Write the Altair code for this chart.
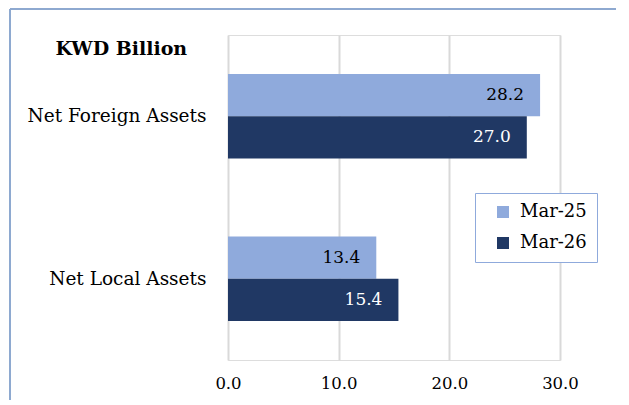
import altair as alt
import pandas as pd

categories = ["Net Foreign Assets", "Net Local Assets"]
periods = ["Mar-25", "Mar-26"]
mar25 = [28.2, 13.4]
mar26 = [27.0, 15.4]
x_ticks = [0, 10, 20, 30]
title_text = "KWD Billion"

rows = []
for c, a, b in zip(categories, mar25, mar26):
    rows.append({"category": c, "period": periods[0], "value": a})
    rows.append({"category": c, "period": periods[1], "value": b})
df = pd.DataFrame(rows)

FONT = "DejaVu Serif"
W, H = 332, 325

y_enc = alt.Y(
    "category:N",
    sort=categories,
    scale=alt.Scale(paddingInner=0.48, paddingOuter=0.24),
    axis=alt.Axis(
        title=title_text,
        titleAngle=0,
        titleX=-173,
        titleY=13,
        titleAlign="left",
        titleBaseline="middle",
        titleFont=FONT,
        titleFontSize=19,
        titleFontWeight="bold",
        titleColor="black",
        labelFont=FONT,
        labelFontSize=18.5,
        labelColor="black",
        labelPadding=22,
        domain=False,
        ticks=False,
        grid=False,
    ),
)
yoff = alt.YOffset("period:N", sort=periods, scale=alt.Scale(paddingInner=0, paddingOuter=0))
x_enc = alt.X(
    "value:Q",
    scale=alt.Scale(domain=[0, 30], nice=False),
    axis=alt.Axis(
        title=None,
        values=x_ticks,
        format=".1f",
        labelFont=FONT,
        labelFontSize=16.5,
        labelColor="black",
        labelPadding=15,
        labelFlush=False,
        labelOverlap=False,
        domain=False,
        ticks=False,
        grid=True,
        gridColor="#d9d9d9",
        gridWidth=2,
    ),
)

bars = alt.Chart(df).mark_bar().encode(
    y=y_enc,
    yOffset=yoff,
    x=x_enc,
    color=alt.Color(
        "period:N",
        sort=periods,
        scale=alt.Scale(domain=periods, range=["#8FAADC", "#203864"]),
        legend=alt.Legend(
            title=None,
            orient="none",
            legendX=247,
            legendY=158,
            direction="vertical",
            symbolType="square",
            symbolSize=144,
            symbolStrokeWidth=0,
            symbolOffset=9,
            labelFont=FONT,
            labelFontSize=18,
            labelColor="black",
            labelOffset=8,
            rowPadding=13,
            padding=10,
            strokeColor="#8FAADC",
            fillColor="white",
        ),
    ),
)

labels = alt.Chart(df).mark_text(
    align="right", baseline="middle", dx=-16, font=FONT, fontSize=17
).encode(
    y=alt.Y("category:N", sort=categories),
    yOffset=alt.YOffset("period:N", sort=periods),
    x="value:Q",
    text=alt.Text("value:Q", format=".1f"),
    color=alt.condition(alt.datum.period == periods[1], alt.value("white"), alt.value("black")),
)

border_left = alt.Chart(df).mark_rule(color="#8EA9D0", strokeWidth=2).encode(
    x=alt.value(-218), y=alt.value(-26), y2=alt.value(420)
)
border_top = alt.Chart(df).mark_rule(color="#8EA9D0", strokeWidth=2).encode(
    x=alt.value(-218), x2=alt.value(420), y=alt.value(-26)
)

chart = (
    alt.layer(bars, labels, border_left, border_top)
    .properties(
        width=W,
        height=H,
        autosize=alt.AutoSizeParams(type="none"),
        padding={"left": 220, "top": 27, "right": 56, "bottom": 40},
    )
    .configure_view(stroke=None)
    .configure(background="white")
)

chart.save("out.html", embed_options={"renderer": "svg", "actions": False})
